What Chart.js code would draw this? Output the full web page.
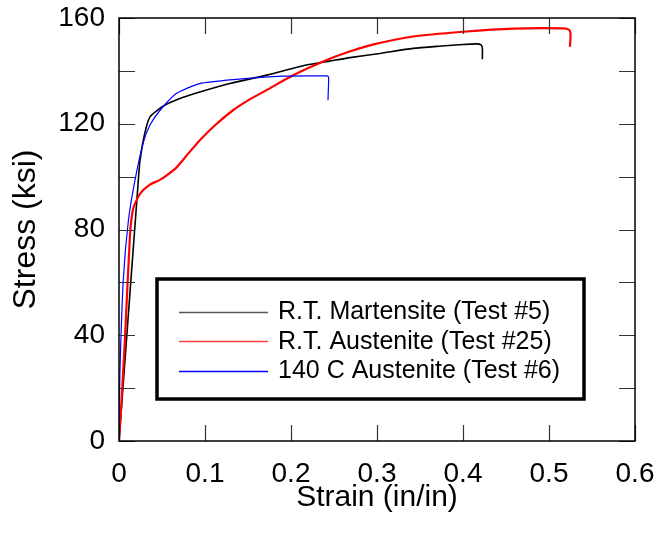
<!DOCTYPE html>
<html>
<head>
<meta charset="utf-8">
<script src="https://cdn.jsdelivr.net/npm/chart.js@4.4.1/dist/chart.umd.min.js"></script>
<style>
  html, body { margin: 0; padding: 0; background: #fff; }
</style>
</head>
<body>
<canvas id="chart" width="659" height="537"></canvas>
<script>
// tick values
const xTickValues = [0, 0.1, 0.2, 0.3, 0.4, 0.5, 0.6];
const yTickValues = [0, 40, 80, 120, 160];
const yMarkValues = [0, 20, 40, 60, 80, 100, 120, 140, 160];

const seriesLabels = [
  'R.T. Martensite (Test #5)',
  'R.T. Austenite (Test #25)',
  '140 C Austenite (Test #6)'
];

// R.T. Martensite (Test #5)
const martStrain = [0, 0.0225, 0.0244, 0.030, 0.036, 0.0516, 0.070, 0.094, 0.130, 0.172, 0.218, 0.245, 0.2686, 0.3035, 0.342, 0.375, 0.400, 0.416, 0.421, 0.4225, 0.4225];
const martStress = [0, 98.7, 106, 116.4, 122.6, 126.7, 129.5, 132, 135.3, 138.4, 142.2, 143.7, 145.0, 146.6, 148.5, 149.4, 150, 150.2, 149.8, 148.5, 144.4];

// R.T. Austenite (Test #25)
const austStrain = [0, 0.002, 0.007, 0.0128, 0.0166, 0.0244, 0.036, 0.046, 0.0555, 0.067, 0.080, 0.094, 0.113, 0.133, 0.152, 0.172, 0.203, 0.2415, 0.270, 0.296, 0.342, 0.400, 0.4585, 0.5166, 0.523, 0.525, 0.5244];
const austStress = [0, 10, 39, 78, 88, 93.5, 97, 98.5, 100.5, 103.5, 108.5, 113.8, 119.8, 125.2, 129.2, 132.8, 138.4, 144.1, 147.5, 150.0, 153.0, 154.8, 156.0, 156.1, 155.6, 154.3, 149.1];

// 140 C Austenite (Test #6)
const hotStrain = [0, 0.001, 0.005, 0.011, 0.0186, 0.028, 0.036, 0.048, 0.067, 0.094, 0.133, 0.191, 0.2415, 0.2435, 0.2438, 0.243];
const hotStress = [0, 25, 61, 83.6, 98.7, 112.6, 119.5, 125.2, 131.5, 135.2, 136.7, 138, 138.1, 137.8, 136.8, 128.9];

const lineColors = ['#000000', '#ff0000', '#0000ff'];
const legendColors = ['#555555', '#ff4040', '#0000ff'];

function toPoints(xs, ys) {
  return xs.map((x, i) => ({ x: x, y: ys[i] }));
}

// inward ticks + frame around the plot area
const frameTicksPlugin = {
  id: 'frameTicks',
  afterDatasetsDraw(chart) {
    const { ctx, chartArea: a, scales: { x, y } } = chart;
    const len = 16;
    ctx.save();
    ctx.strokeStyle = '#333';
    ctx.lineWidth = 1.2;
    ctx.beginPath();
    xTickValues.forEach(v => {
      const px = Math.round(x.getPixelForValue(v)) + 0.5;
      ctx.moveTo(px, a.bottom); ctx.lineTo(px, a.bottom - len);
      ctx.moveTo(px, a.top); ctx.lineTo(px, a.top + len);
    });
    yMarkValues.forEach(v => {
      const py = Math.round(y.getPixelForValue(v)) + 0.5;
      ctx.moveTo(a.left, py); ctx.lineTo(a.left + len, py);
      ctx.moveTo(a.right, py); ctx.lineTo(a.right - len, py);
    });
    ctx.stroke();
    ctx.strokeStyle = '#000';
    ctx.lineWidth = 1.5;
    ctx.strokeRect(a.left, a.top, a.right - a.left, a.bottom - a.top);
    ctx.restore();
  }
};

// boxed legend inside the plot
const boxLegendPlugin = {
  id: 'boxLegend',
  afterDraw(chart) {
    const { ctx, chartArea: a } = chart;
    const bx = a.left + 38, by = a.top + 261, bw = 427, bh = 120;
    ctx.save();
    ctx.fillStyle = '#fff';
    ctx.fillRect(bx, by, bw, bh);
    ctx.strokeStyle = '#000';
    ctx.lineWidth = 3.5;
    ctx.strokeRect(bx, by, bw, bh);
    ctx.font = '25px "Liberation Sans", Arial, sans-serif';
    ctx.textBaseline = 'middle';
    chart.data.datasets.forEach((ds, i) => {
      const cy = by + 32.5 + i * 29.5;
      ctx.strokeStyle = legendColors[i];
      ctx.lineWidth = 1.6;
      ctx.beginPath();
      ctx.moveTo(bx + 22, Math.round(cy) + 0.5);
      ctx.lineTo(bx + 111, Math.round(cy) + 0.5);
      ctx.stroke();
      ctx.fillStyle = '#000';
      ctx.fillText(ds.label, bx + 121, cy + 1);
    });
    ctx.restore();
  }
};

const fontFamily = '"Liberation Sans", Arial, sans-serif';

const config = {
  type: 'scatter',
  data: {
    datasets: [
      {
        label: seriesLabels[0],
        data: toPoints(martStrain, martStress),
        borderColor: lineColors[0],
        borderWidth: 1.6,
        showLine: true,
        pointRadius: 0,
        tension: 0.2,
        order: 2
      },
      {
        label: seriesLabels[1],
        data: toPoints(austStrain, austStress),
        borderColor: lineColors[1],
        borderWidth: 2.2,
        showLine: true,
        pointRadius: 0,
        tension: 0.2,
        order: 1
      },
      {
        label: seriesLabels[2],
        data: toPoints(hotStrain, hotStress),
        borderColor: lineColors[2],
        borderWidth: 1.2,
        showLine: true,
        pointRadius: 0,
        tension: 0.2,
        order: 0
      }
    ]
  },
  options: {
    responsive: false,
    animation: false,
    layout: { padding: { top: 18, right: 24, left: 0, bottom: 0 } },
    scales: {
      x: {
        type: 'linear',
        min: 0,
        max: 0.6,
        afterBuildTicks: s => { s.ticks = xTickValues.map(v => ({ value: v })); },
        afterFit: s => { s.height = 96; s.paddingLeft = 0; s.paddingRight = 0; },
        grid: { display: false, drawTicks: false },
        border: { display: false },
        ticks: {
          padding: 16,
          color: '#000',
          font: { family: fontFamily, size: 28 },
          maxRotation: 0,
          callback: v => (v === 0 ? '0' : Number(v).toFixed(1))
        },
        title: {
          display: true,
          text: 'Strain (in/in)',
          color: '#000',
          font: { family: fontFamily, size: 30 },
          padding: { top: 0, bottom: 21 }
        }
      },
      y: {
        type: 'linear',
        min: 0,
        max: 160,
        afterBuildTicks: s => { s.ticks = yTickValues.map(v => ({ value: v })); },
        afterFit: s => { s.width = 119; s.paddingTop = 0; s.paddingBottom = 0; },
        grid: { display: false, drawTicks: false },
        border: { display: false },
        ticks: {
          padding: 14,
          color: '#000',
          font: { family: fontFamily, size: 28 }
        },
        title: {
          display: true,
          text: 'Stress (ksi)',
          color: '#000',
          font: { family: fontFamily, size: 32 },
          padding: { top: 7, bottom: 0 }
        }
      }
    },
    plugins: {
      legend: { display: false },
      tooltip: { enabled: false }
    }
  },
  plugins: [frameTicksPlugin, boxLegendPlugin]
};

const chart = new Chart(document.getElementById('chart').getContext('2d'), config);
</script>
</body>
</html>
